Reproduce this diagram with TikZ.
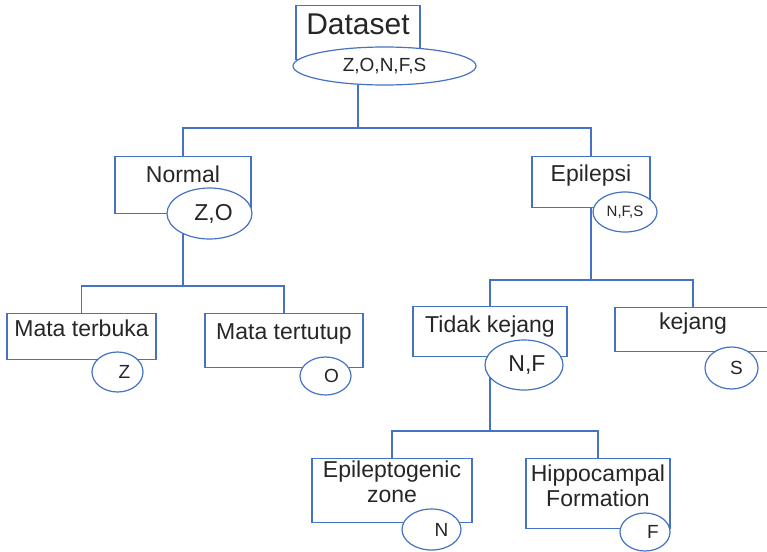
\documentclass[tikz,border=0pt]{standalone}
\usepackage{fontspec}
\setmainfont{Liberation Sans}
\usetikzlibrary{shapes.geometric}
\definecolor{garis}{HTML}{4472C4}
\definecolor{teks}{HTML}{262626}
% box: [text drop], name, centre x, top y, width, height, text
\newcommand{\blok}[7][9]{%
  \node[kotak,minimum width=#5,minimum height=#6,anchor=north] (#2) at (#3,#4) {};
  \node[judul,anchor=north] (#2-t) at ([yshift=-#1pt]#2.north) {#7};}

\begin{document}
\begin{tikzpicture}[
      x=1pt,y=-1pt,
      kotak/.style={rectangle,draw=garis,line width=1.2pt,inner sep=0pt},
      judul/.style={text=teks,font=\fontsize{23}{25}\selectfont,align=center,inner sep=0pt},
      lonjong/.style={ellipse,draw=garis,line width=1.2pt,fill=white,text=teks,inner sep=0pt,font=\fontsize{23}{25}\selectfont},
      geser/.style={execute at begin node={\hspace*{#1}}},
      cabang/.style={draw=garis,line width=1.2pt}
      ]
      \useasboundingbox (0,0) rectangle (767,551);
      \clip (0,0) rectangle (767,551);
      % boxes
      \node[kotak,minimum width=124,minimum height=54,anchor=north] (dataset) at (358,5) {};
      \node[judul,anchor=base,font=\fontsize{30}{32}\selectfont] (dataset-t) at ([yshift=-30pt]dataset.north) {Dataset};
      \blok[10]{normal}{183}{156}{136}{57}{Normal}
      \blok{epilepsi}{591}{156}{118}{51}{Epilepsi}
      \blok[7]{terbuka}{81.5}{313}{149}{46}{Mata terbuka}
      \blok[10]{tertutup}{284}{313}{158}{54}{Mata tertutup}
      \blok[10]{tidak}{490}{306}{154}{50}{Tidak kejang}
      \blok[6]{kejang}{693}{307}{156}{44}{kejang}
      \blok[3]{zone}{392}{458}{160}{64}{Epileptogenic\\zone}
      \blok[7]{hippo}{598}{458}{144}{70}{Hippocampal\\Formation}
      % connectors
      \coordinate (f1) at (358,128);
      \coordinate (f2) at (183,286);
      \coordinate (f3) at (591,280);
      \coordinate (f4) at (490,431);
      \path[cabang] (dataset.south) -- (f1) -| (normal.north);
      \path[cabang] (f1) -| (epilepsi.north);
      \path[cabang] (normal.south) -- (f2) -| (terbuka.north);
      \path[cabang] (f2) -| (tertutup.north);
      \path[cabang] (epilepsi.south) -- (f3) -| (tidak.north);
      \path[cabang] (f3) -| (kejang.north);
      \path[cabang] (tidak.south) -- (f4) -| (zone.north);
      \path[cabang] (f4) -| (hippo.north);
      % ellipses
      \node[lonjong,minimum width=183,minimum height=38,font=\fontsize{19}{21}\selectfont] (dataset-e) at (384.5,66) {Z,O,N,F,S};
      \node[lonjong,minimum width=85,minimum height=51,geser=8pt] (normal-e) at (209.5,213.5) {Z,O};
      \node[lonjong,minimum width=64,minimum height=40,font=\fontsize{15}{17}\selectfont] (epilepsi-e) at (625,212) {N,F,S};
      \node[lonjong,minimum width=51,minimum height=40,font=\fontsize{19}{21}\selectfont,geser=14pt] (terbuka-e) at (117.5,372) {Z};
      \node[lonjong,minimum width=51,minimum height=38,font=\fontsize{19}{21}\selectfont,geser=12pt] (tertutup-e) at (325.5,376) {O};
      \node[lonjong,minimum width=78,minimum height=50,geser=6pt] (tidak-e) at (524,365) {N,F};
      \node[lonjong,minimum width=53,minimum height=42,font=\fontsize{19}{21}\selectfont,geser=10pt] (kejang-e) at (731.5,368) {S};
      \node[lonjong,minimum width=59,minimum height=41,font=\fontsize{19}{21}\selectfont,geser=20pt] (zone-e) at (431.5,529.5) {N};
      \node[lonjong,minimum width=50,minimum height=38,font=\fontsize{19}{21}\selectfont,geser=16pt] (hippo-e) at (645,532) {F};
\end{tikzpicture}
\end{document}
